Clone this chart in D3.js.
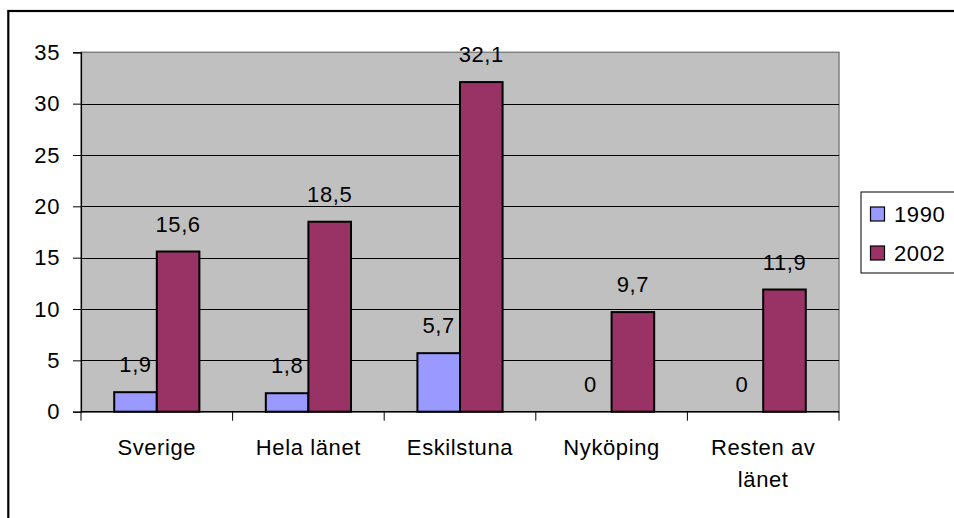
<!DOCTYPE html>
<html>
<head>
<meta charset="utf-8">
<script src="https://cdn.jsdelivr.net/npm/d3@7"></script>
<style>
  html, body { margin: 0; padding: 0; background: #fff; }
  svg { display: block; font-family: "Liberation Sans", Arial, sans-serif; }
  text { letter-spacing: 0.6px; }
</style>
</head>
<body>
<svg id="chart" width="954" height="518"></svg>
<script>
const categories = ["Sverige", "Hela länet", "Eskilstuna", "Nyköping", "Resten av länet"];
const categoryLines = [["Sverige"], ["Hela länet"], ["Eskilstuna"], ["Nyköping"], ["Resten av", "länet"]];
const seriesNames = ["1990", "2002"];
const values1990 = [1.9, 1.8, 5.7, 0, 0];
const values2002 = [15.6, 18.5, 32.1, 9.7, 11.9];
const yTicks = [0, 5, 10, 15, 20, 25, 30, 35];
const colors = ["#9999FF", "#993366"];

const svg = d3.select("#chart");
const W = 954, H = 518;
const plot = { left: 81, right: 839, top: 52.3, bottom: 411.7 };
const fontSize = 22;

// outer chart border
svg.append("rect")
  .attr("x", 8.3).attr("y", 11).attr("width", W + 20).attr("height", H + 20)
  .attr("fill", "#fff").attr("stroke", "#000").attr("stroke-width", 2.2);

const y = d3.scaleLinear().domain([0, 35]).range([plot.bottom, plot.top]);
const x0 = d3.scaleBand().domain(categories).range([plot.left, plot.right]).padding(0);
const x1 = d3.scaleBand().domain(seriesNames).range([0, x0.bandwidth()]).paddingInner(0).paddingOuter(0.78);

// plot area
svg.append("rect")
  .attr("x", plot.left).attr("y", plot.top)
  .attr("width", plot.right - plot.left).attr("height", plot.bottom - plot.top)
  .attr("fill", "#C0C0C0").attr("stroke", "#808080").attr("stroke-width", 1.5);

// gridlines
svg.append("g").selectAll("line")
  .data(yTicks.filter(t => t > 0 && t < 35))
  .join("line")
  .attr("x1", plot.left).attr("x2", plot.right)
  .attr("y1", d => Math.round(y(d)) + 0.5).attr("y2", d => Math.round(y(d)) + 0.5)
  .attr("stroke", "#000").attr("stroke-width", 1);

// y axis
const yAxis = d3.axisLeft(y).tickValues(yTicks).tickSize(8).tickPadding(13).tickFormat(d3.format("d"));
const gy = svg.append("g").attr("transform", `translate(${plot.left},0)`).call(yAxis);
gy.select(".domain").attr("stroke", "#000").attr("stroke-width", 1.2);
gy.selectAll(".tick line").attr("stroke", "#000");
gy.selectAll(".tick text").attr("font-size", fontSize).attr("fill", "#000")
  .attr("font-family", "Liberation Sans, Arial, sans-serif");

// bars
const data = categories.map((c, i) => ({ c, vals: [values1990[i], values2002[i]] }));
const groups = svg.append("g").selectAll("g")
  .data(data).join("g")
  .attr("transform", d => `translate(${x0(d.c)},0)`);

groups.selectAll("rect")
  .data(d => d.vals.map((v, j) => ({ s: seriesNames[j], v, j })))
  .join("rect")
  .attr("x", d => x1(d.s))
  .attr("width", x1.bandwidth())
  .attr("y", d => y(d.v))
  .attr("height", d => y(0) - y(d.v))
  .attr("fill", d => colors[d.j])
  .attr("stroke", "#000").attr("stroke-width", d => d.v > 0 ? 2 : 0);

// x axis
const xAxisLine = svg.append("g");
xAxisLine.append("line")
  .attr("x1", plot.left).attr("x2", plot.right)
  .attr("y1", plot.bottom).attr("y2", plot.bottom)
  .attr("stroke", "#000").attr("stroke-width", 1.5);
const boundaries = categories.map(c => x0(c)).concat([plot.right]);
xAxisLine.selectAll("line.tk").data(boundaries).join("line").attr("class", "tk")
  .attr("x1", d => d).attr("x2", d => d)
  .attr("y1", plot.bottom).attr("y2", plot.bottom + 9)
  .attr("stroke", "#000").attr("stroke-width", 1);

// value labels
groups.selectAll("text.val")
  .data(d => d.vals.map((v, j) => ({ s: seriesNames[j], v, j })))
  .join("text").attr("class", "val")
  .attr("x", d => x1(d.s) + x1.bandwidth() / 2)
  .attr("y", d => y(d.v) - 20)
  .attr("text-anchor", "middle")
  .attr("font-size", fontSize).attr("fill", "#000")
  .text(d => d3.format(".1~f")(d.v).replace(".", ","));

// category labels
const catG = svg.append("g");
categories.forEach((c, i) => {
  const t = catG.append("text")
    .attr("x", x0(c) + x0.bandwidth() / 2)
    .attr("y", 455)
    .attr("text-anchor", "middle")
    .attr("font-size", fontSize).attr("fill", "#000");
  categoryLines[i].forEach((ln, k) => {
    t.append("tspan").attr("x", x0(c) + x0.bandwidth() / 2).attr("dy", k === 0 ? 0 : 31.7).text(ln);
  });
});

// legend
const lg = svg.append("g");
lg.append("rect").attr("x", 861).attr("y", 192).attr("width", 120).attr("height", 81)
  .attr("fill", "#fff").attr("stroke", "#000").attr("stroke-width", 1);
seriesNames.forEach((s, i) => {
  const cy = 214 + i * 39;
  lg.append("rect").attr("x", 870.5).attr("y", cy - 7).attr("width", 14).attr("height", 14)
    .attr("fill", colors[i]).attr("stroke", "#000").attr("stroke-width", 1.2);
  lg.append("text").attr("x", 894).attr("y", cy).attr("dy", "0.36em")
    .attr("font-size", fontSize).attr("fill", "#000").text(s);
});
</script>
</body>
</html>
